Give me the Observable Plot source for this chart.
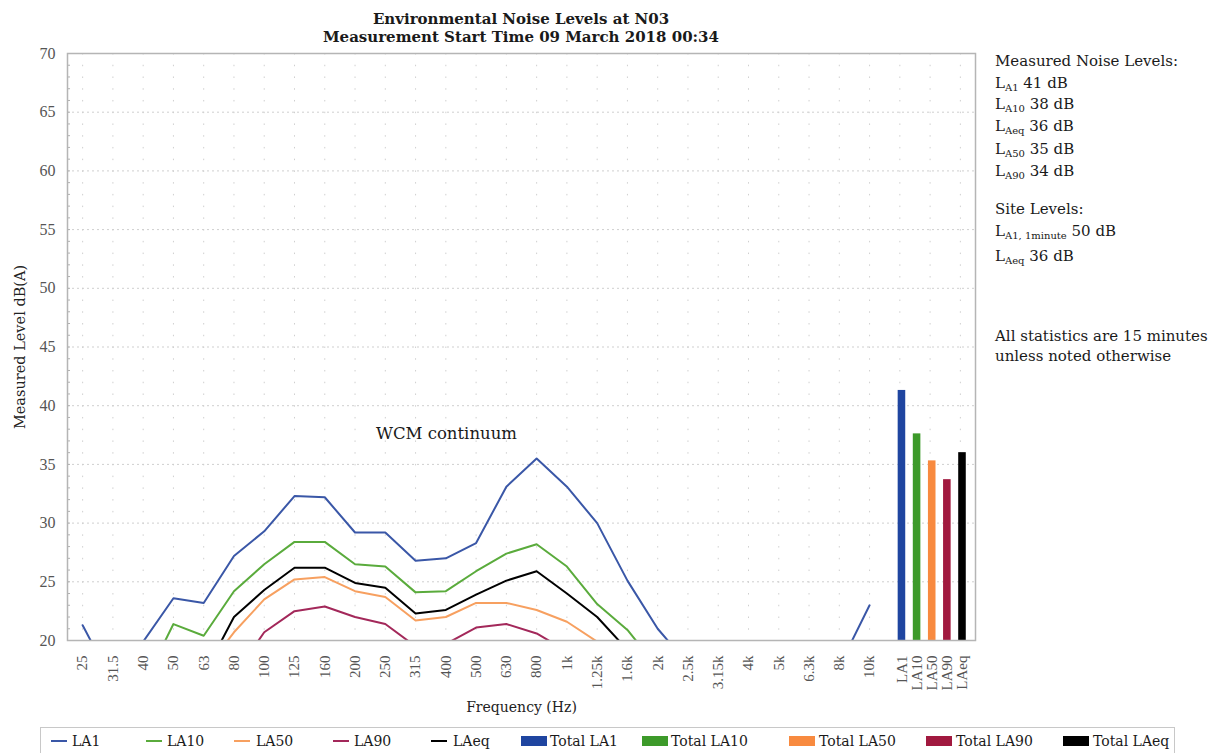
<!DOCTYPE html>
<html>
<head>
<meta charset="utf-8">
<script src="https://cdn.jsdelivr.net/npm/d3@7"></script>
<script src="https://cdn.jsdelivr.net/npm/@observablehq/plot@0.6"></script>
<style>
html, body { margin: 0; padding: 0; background: #fff; }
#wrap { position: relative; width: 1222px; height: 753px; overflow: hidden; font-family: "DejaVu Serif", serif; color: #1a1a1a; }
#chart { position: absolute; left: 0; top: 0; }
.title { position: absolute; left: 0; width: 1042px; text-align: center; font-weight: bold; font-size: 15px; line-height: 18px; white-space: nowrap; }
.pl { position: absolute; left: 995px; font-size: 15px; line-height: 15px; white-space: nowrap; }
.pl sub { font-size: 10px; vertical-align: -3px; line-height: 0; }
#legend { position: absolute; left: 40px; top: 727px; width: 1135px; height: 40px; border: 1px solid #c8c8c8; box-sizing: border-box; }
.lt { position: absolute; font-size: 14px; line-height: 14px; white-space: nowrap; }
.sw { position: absolute; }
</style>
</head>
<body>
<div id="wrap">
  <div id="chart"></div>
  <div class="title" style="top:10px">Environmental Noise Levels at N03</div>
  <div class="title" style="top:28px">Measurement Start Time 09 March 2018 00:34</div>
  <div id="panel"></div>
  <div id="legend"></div>
</div>
<script>
// ---- data ----
const bands = ["25","31.5","40","50","63","80","100","125","160","200","250","315","400","500","630","800","1k","1.25k","1.6k","2k","2.5k","3.15k","4k","5k","6.3k","8k","10k"];
const LA1  = [21.3, 16.4, 19.9, 23.6, 23.2, 27.2, 29.3, 32.3, 32.2, 29.2, 29.2, 26.8, 27.0, 28.3, 33.1, 35.5, 33.1, 30.0, 25.1, 21.0, 18.0, 16.5, 15.8, 15.5, 16.2, 17.8, 23.0];
const LA10 = [17.5, 14.8, 16.2, 21.4, 20.4, 24.2, 26.5, 28.4, 28.4, 26.5, 26.3, 24.1, 24.2, 25.9, 27.4, 28.2, 26.3, 23.1, 20.9, 17.7, 15.0, 13.8, 13.2, 13.0, 13.5, 14.2, 17.2];
const LA50 = [13.5, 11.5, 12.8, 17.0, 17.3, 20.7, 23.5, 25.2, 25.4, 24.2, 23.7, 21.7, 22.0, 23.2, 23.2, 22.6, 21.6, 19.9, 17.5, 14.8, 12.8, 11.8, 11.2, 11.0, 11.3, 11.8, 13.5];
const LA90 = [12.0, 10.5, 11.5, 15.5, 15.8, 17.0, 20.7, 22.5, 22.9, 22.0, 21.4, 19.5, 19.7, 21.1, 21.4, 20.6, 19.1, 17.0, 15.0, 12.8, 11.2, 10.5, 10.0, 9.8, 10.0, 10.4, 11.8];
const LAeq = [15.0, 12.5, 14.0, 18.4, 17.1, 22.0, 24.3, 26.2, 26.2, 24.9, 24.5, 22.3, 22.6, 23.9, 25.1, 25.9, 24.0, 22.0, 19.2, 16.0, 14.0, 12.8, 12.2, 12.0, 12.4, 13.0, 15.8];
const seriesNames = ["LA1", "LA10", "LA50", "LA90", "LAeq"];
const lineColors = ["#3a57a7", "#5aab3c", "#f7a060", "#a3285a", "#000000"];
const totalLabels = ["LA1", "LA10", "LA50", "LA90", "LAeq"];
const totalValues = [41.3, 37.6, 35.3, 33.7, 36.0];
const totalColors = ["#1f45a0", "#3d9a2a", "#f88a3f", "#a1193f", "#000000"];
const yTicks = [20, 25, 30, 35, 40, 45, 50, 55, 60, 65, 70];
const panelLines = [
  ["Measured Noise Levels:", "", ""],
  ["L", "A1", " 41 dB"],
  ["L", "A10", " 38 dB"],
  ["L", "Aeq", " 36 dB"],
  ["L", "A50", " 35 dB"],
  ["L", "A90", " 34 dB"],
  ["Site Levels:", "", ""],
  ["L", "A1, 1minute", " 50 dB"],
  ["L", "Aeq", " 36 dB"],
  ["All statistics are 15 minutes", "", ""],
  ["unless noted otherwise", "", ""]
];

// ---- derived tables ----
const seriesValues = [LA1, LA10, LA50, LA90, LAeq];
const nCats = 30;
const barStart = 27.57, barStep = 0.5, barHalf = 0.125;
const long = seriesNames.flatMap((s, k) => bands.map((b, i) => ({band: b, pos: i + 0.5, series: s, value: seriesValues[k][i]})));
const totals = totalLabels.map((s, k) => ({label: s, key: "Total " + s, value: totalValues[k], c: barStart + k * barStep}));
const bandTicks = bands.map((b, i) => i + 0.5);
const barTicks = totals.map(d => d.c);
const serif = "'Liberation Serif', serif";

const chart = Plot.plot({
  width: 1000,
  height: 725,
  marginLeft: 67,
  marginRight: 25,
  marginTop: 53,
  marginBottom: 85,
  style: {fontFamily: serif, fontSize: "14px", background: "transparent"},
  x: {type: "linear", domain: [0, nCats]},
  y: {domain: [20, 70]},
  color: {domain: [...seriesNames, ...totals.map(d => d.key)], range: [...lineColors, ...totalColors]},
  marks: [
    Plot.ruleY(yTicks.filter(v => v > 20 && v < 70), {stroke: "#cfcfcf", strokeDasharray: "2,3"}),
    Plot.ruleX(d3.range(nCats).map(i => i + 0.5), {stroke: "#cfcfcf", strokeDasharray: "1.5,10.24"}),
    Plot.ruleY(d3.range(21, 70), {x1: 0, x2: 0.1, stroke: "#b0b0b0"}),
    Plot.line(long, {x: "pos", y: "value", z: "series", stroke: "series", strokeWidth: 2, clip: true}),
    Plot.rectY(totals, {x1: d => d.c - barHalf, x2: d => d.c + barHalf, y1: 20, y2: "value", fill: "key"}),
    Plot.frame({stroke: "#b5b5b5", strokeWidth: 1.5}),
    Plot.axisY(yTicks, {anchor: "left", tickSize: 0, tickPadding: 12, fontSize: 16, fontFamily: serif, label: null, color: "#555"}),
    Plot.axisX(bandTicks, {anchor: "bottom", tickFormat: d => bands[Math.round(d - 0.5)], tickRotate: -90, tickSize: 0, tickPadding: 15, fontSize: 15, fontFamily: serif, label: null, color: "#555"}),
    Plot.axisX(barTicks, {anchor: "bottom", tickFormat: d => totalLabels[Math.round((d - barStart) / barStep)], tickRotate: -90, tickSize: 0, tickPadding: 15, fontSize: 15, fontFamily: serif, label: null, color: "#555"}),
    Plot.text(["WCM continuum"], {x: 12.52, y: 37.6, fontSize: 16.5, fontFamily: "DejaVu Serif", fill: "#1a1a1a"}),
    Plot.text(["Measured Level dB(A)"], {frameAnchor: "left", dx: -47, rotate: -90, textAnchor: "middle", lineAnchor: "middle", fontSize: 14.5, fontFamily: "DejaVu Serif", fill: "#222"}),
    Plot.text(["Frequency (Hz)"], {frameAnchor: "bottom", dy: 67, textAnchor: "middle", lineAnchor: "middle", fontSize: 14, fontFamily: "DejaVu Serif", fill: "#222"})
  ]
});
document.getElementById("chart").appendChild(chart);

// ---- side panel ----
const baselines = [66.7, 88.3, 110, 131.7, 155, 176.7, 215, 236.7, 261.7, 341.7, 361.7];
const panel = document.getElementById("panel");
panelLines.forEach((ln, i) => {
  const div = document.createElement("div");
  div.className = "pl";
  div.style.top = (baselines[i] - 12.7) + "px";
  div.append(ln[0]);
  if (ln[1]) { const s = document.createElement("sub"); s.textContent = ln[1]; div.append(s); }
  if (ln[2]) div.append(ln[2]);
  panel.appendChild(div);
});

// ---- legend ----
const legend = document.getElementById("legend");
const lineItems = [[50, 71], [145, 166], [233, 255], [332, 353], [430, 452]];
const rectItems = [[520, 549], [641, 670], [788, 818], [925, 955], [1062, 1092]];
const addText = (x, t) => { const d = document.createElement("div"); d.className = "lt"; d.style.left = (x - 40) + "px"; d.style.top = "6px"; d.textContent = t; legend.appendChild(d); };
seriesNames.forEach((s, k) => {
  const sw = document.createElement("div"); sw.className = "sw";
  sw.style.cssText += `left:${lineItems[k][0] - 40}px;top:12px;width:16px;height:2px;background:${lineColors[k]}`;
  legend.appendChild(sw); addText(lineItems[k][1], s);
});
totals.forEach((d, k) => {
  const sw = document.createElement("div"); sw.className = "sw";
  sw.style.cssText += `left:${rectItems[k][0] - 40}px;top:8px;width:26px;height:10px;background:${totalColors[k]}`;
  legend.appendChild(sw); addText(rectItems[k][1], d.key);
});
</script>
</body>
</html>
